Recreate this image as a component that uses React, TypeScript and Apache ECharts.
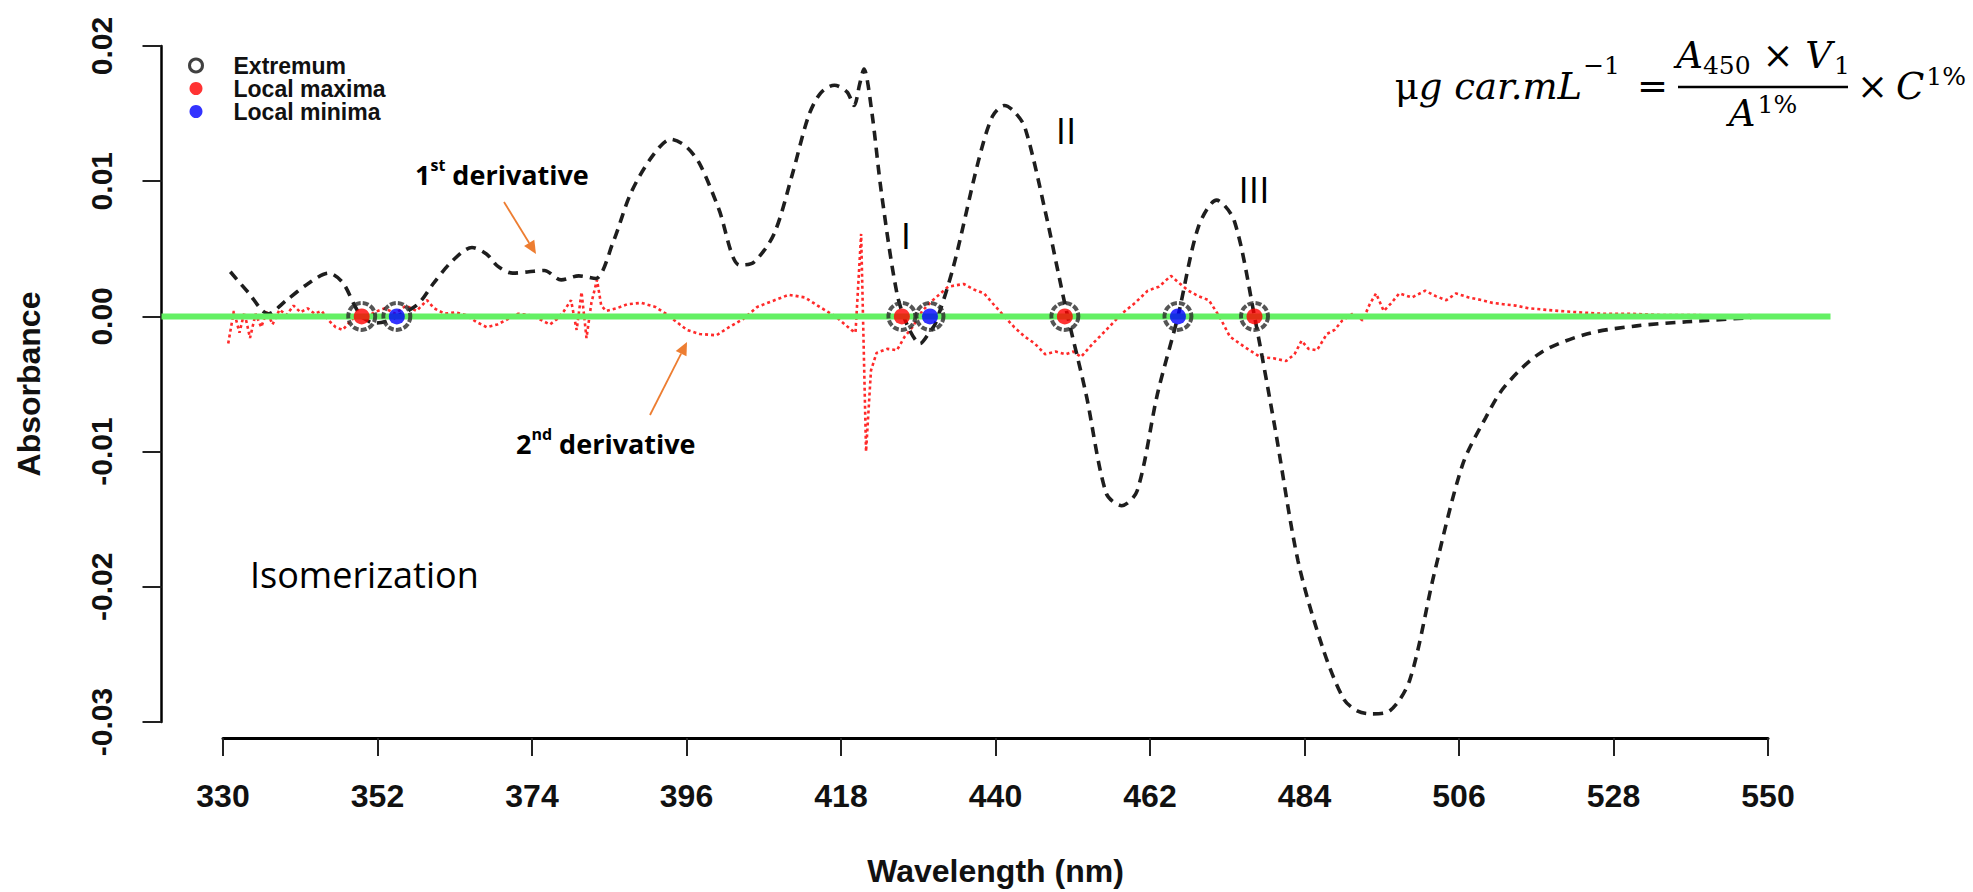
import React, { useEffect, useRef } from "react";
import * as echarts from "echarts";

// ---------------- data ----------------
const wavelength1 = [
  331.0, 333.5, 336.4, 339.0, 342.0, 345.0, 347.0, 348.7, 349.7, 351.5, 353.0, 354.7,
  357.7, 360.0, 362.6, 365.4, 367.5, 369.1, 371.2, 373.5, 375.7, 378.1, 380.6, 383.0,
  385.5, 388.0, 391.0, 393.7, 395.8, 397.8, 400.5, 403.5, 405.5, 408.4, 411.0, 413.3,
  415.0, 417.0, 418.8, 419.8, 420.6, 421.2, 422.3, 423.7, 425.9, 427.5, 429.2, 430.5,
  431.4, 433.9, 437.5, 439.5, 441.2, 442.5, 444.1, 447.0, 449.9, 452.8, 455.7, 457.9,
  460.1, 463.0, 465.9, 468.8, 471.4, 473.9, 476.8, 479.7, 483.0, 486.5, 489.5, 491.5,
  493.5, 496.0, 498.9, 502.4, 506.4, 509.7, 512.4, 517.5, 524.1, 531.2, 538.3, 547.5
];
const firstDerivative = [
  0.0033, 0.0018, 0.0002, 0.0012, 0.0024, 0.0032, 0.0025, 0.0008, 0.0, -0.0005, -0.0004, 0.0,
  0.0009, 0.0025, 0.0041, 0.0051, 0.0046, 0.0037, 0.0032, 0.0033, 0.0034, 0.0027, 0.0030, 0.0028,
  0.0055, 0.0091, 0.0118, 0.0131, 0.0126, 0.0113, 0.0080, 0.0038, 0.0040, 0.0061, 0.0105, 0.0148,
  0.0165, 0.0171, 0.0166, 0.0156, 0.0172, 0.0183, 0.0152, 0.0091, 0.0017, -0.0008, -0.0020, -0.0012,
  -0.0005, 0.0036, 0.0115, 0.0148, 0.0156, 0.0152, 0.0140, 0.0078, 0.0007, -0.0057, -0.0131, -0.0140,
  -0.0129, -0.0057, 0.0, 0.0066, 0.0086, 0.0071, 0.0, -0.0082, -0.0181, -0.0245, -0.0283, -0.0292,
  -0.0294, -0.0292, -0.0269, -0.0190, -0.0110, -0.0075, -0.0052, -0.0027, -0.0013, -0.0007, -0.0004, -0.0001
];

const wavelength2 = [
  330.7, 331.5, 332.3, 333.0, 333.8, 334.6, 335.4, 336.2, 337.0, 338.0, 339.0, 340.0,
  341.0, 342.0, 343.0, 344.0, 345.0, 346.0, 347.0, 348.0, 349.0, 350.0, 351.5, 353.0,
  354.5, 356.0, 357.5, 359.0, 360.0, 361.5, 363.0, 364.5, 366.0, 367.5, 369.0, 370.5,
  372.0, 373.5, 375.0, 376.5, 377.5, 378.5, 379.5, 380.3, 381.0, 381.7, 382.4, 383.2,
  383.8, 384.5, 386.0, 387.5, 389.5, 391.5, 393.0, 394.5, 396.0, 397.8, 400.2, 402.0,
  404.0, 406.0, 408.0, 410.5, 412.8, 414.9, 416.5, 417.4, 418.5, 419.4, 420.0, 420.8,
  421.5, 422.2, 423.0, 424.5, 425.9, 427.0, 428.1, 429.5, 431.0, 433.2, 435.4, 436.8,
  438.3, 439.8, 441.2, 442.6, 444.1, 445.5, 447.0, 448.5, 449.9, 451.0, 452.1, 453.8,
  455.7, 457.9, 459.8, 461.6, 463.2, 464.9, 466.0, 467.4, 468.8, 470.3, 471.8, 473.3,
  475.5, 477.6, 479.5, 481.3, 482.5, 483.5, 484.5, 485.7, 487.1, 488.2, 489.3, 490.8,
  492.2, 493.2, 494.1, 495.2, 496.3, 497.4, 499.2, 501.1, 502.6, 504.1, 505.5, 507.3,
  509.2, 510.7, 512.2, 514.0, 515.8, 518.0, 520.2, 523.0, 526.1, 530.0, 535.0, 540.0,
  545.0, 547.5
];
const secondDerivative = [
  -0.0020, 0.0004, -0.0012, 0.0003, -0.0016, 0.0002, -0.0008, 0.0004, -0.0006, 0.0005, 0.0001, 0.0008,
  0.0003, 0.0006, 0.0002, 0.0004, -0.0003, -0.0008, -0.0010, -0.0004, 0.0001, -0.0002, 0.0003, 0.0006,
  0.0002, 0.0008, 0.0004, 0.0012, 0.0006, 0.0002, 0.0003, 0.0001, -0.0004, -0.0008, -0.0006, -0.0002,
  0.0002, 0.0001, -0.0002, -0.0006, -0.0002, 0.0004, 0.0012, -0.0010, 0.0018, -0.0016, 0.0010, 0.0027,
  0.0008, 0.0004, 0.0006, 0.0009, 0.0010, 0.0007, 0.0002, -0.0004, -0.0010, -0.0013, -0.0014, -0.0008,
  -0.0002, 0.0007, 0.0011, 0.0016, 0.0014, 0.0007, 0.0002, -0.0001, -0.0006, -0.0010, -0.0012, 0.0061,
  -0.0100, -0.0040, -0.0027, -0.0024, -0.0025, -0.0015, -0.0008, 0.0004, 0.0012, 0.0022, 0.0024, 0.0020,
  0.0017, 0.0008, 0.0000, -0.0008, -0.0015, -0.0020, -0.0028, -0.0026, -0.0028, -0.0026, -0.0030, -0.0020,
  -0.0010, 0.0002, 0.0010, 0.0019, 0.0022, 0.0030, 0.0025, 0.0019, 0.0015, 0.0012, 0.0000, -0.0015,
  -0.0023, -0.0030, -0.0031, -0.0033, -0.0028, -0.0018, -0.0024, -0.0025, -0.0013, -0.0010, -0.0003, 0.0002,
  -0.0003, 0.0009, 0.0017, 0.0004, 0.0010, 0.0017, 0.0014, 0.0019, 0.0015, 0.0012, 0.0017, 0.0014,
  0.0012, 0.0010, 0.0009, 0.0008, 0.0006, 0.0005, 0.0004, 0.0003, 0.0002, 0.0002, 0.0001, 0.0001,
  0.0000, 0.0001
];

// plot region (R style: data range extended by 4 %)
const plotXMin = 321.2, plotXMax = 558.8;
const baselineWavelength = [plotXMin, plotXMax];
const baselineValue = [0, 0];

const extremumWavelength = [349.7, 354.7, 426.6, 430.6, 449.8, 465.9, 476.8];
const maximaWavelength = [349.7, 426.6, 449.8, 476.8];
const minimaWavelength = [354.7, 430.6, 465.9];

const xMin = 330, xMax = 550, xStep = 22;
const yMin = -0.03, yMax = 0.02, yStep = 0.01;

const legendNames = ["Extremum", "Local maxima", "Local minima"];

// ---------------- helpers ----------------
const zip = (xs: number[], ys: number[]) => xs.map((x, i) => [x, ys[i]]);
const onZero = (xs: number[]) => xs.map((x) => [x, 0]);

const AXIS_FONT = "'Liberation Sans', Arial, sans-serif";
const CAL_FONT = "'Open Sans', 'Noto Sans', sans-serif";
const MATH_FAMILY = "'DejaVu Serif'";
const MATH_FONT = "'DejaVu Serif', serif";

let measureCtx: CanvasRenderingContext2D | null = null;
function tw(text: string, size: number, italic: boolean) {
  if (!measureCtx) measureCtx = document.createElement("canvas").getContext("2d");
  if (!measureCtx) return text.length * size * 0.6;
  measureCtx.font = `${italic ? "italic " : ""}${size}px ${MATH_FAMILY}, serif`;
  return measureCtx.measureText(text).width;
}

function arrow(x1: number, y1: number, x2: number, y2: number, color: string) {
  const ang = Math.atan2(y2 - y1, x2 - x1);
  const hl = 13, hw = 6;
  const bx = x2 - hl * Math.cos(ang), by = y2 - hl * Math.sin(ang);
  const px = -Math.sin(ang) * hw, py = Math.cos(ang) * hw;
  return [
    { type: "line", shape: { x1, y1, x2: bx, y2: by }, style: { stroke: color, lineWidth: 1.8 }, z: 100 },
    { type: "polygon", shape: { points: [[x2, y2], [bx + px, by + py], [bx - px, by - py]] }, style: { fill: color }, z: 100 },
  ];
}

function mtext(text: string, x: number, y: number, size: number, italic: boolean, align = "left") {
  return {
    type: "text", x, y, z: 100,
    style: { text, fontFamily: MATH_FONT, fontSize: size, fontStyle: italic ? "italic" : "normal", fill: "#000", textAlign: align, textVerticalAlign: "middle" },
  };
}

function formula() {
  const B = 37, S = 25;
  const els: any[] = [];
  // left part, right-anchored before "="
  const supEnd = 1620;
  const wSup = tw("−1", S, false);
  els.push(mtext("−1", supEnd - wSup, 65, S, false));
  els.push({
    type: "text", x: supEnd - wSup - 1, y: 86, z: 100,
    style: {
      text: "{r|μ}{i|g car.mL}", textAlign: "right", textVerticalAlign: "middle",
      rich: {
        r: { fontFamily: MATH_FONT, fontSize: B, color: "#000" },
        i: { fontFamily: MATH_FONT, fontSize: B, fontStyle: "italic", color: "#000" },
      },
    },
  });
  els.push(mtext("=", 1637, 86, B, false));
  // numerator
  const barL = 1678, barR = 1848, barC = (barL + barR) / 2;
  const wA = tw("A", B, true), w450 = tw("450", S, false), wX = tw(" × ", B, false), wV = tw("V", B, true), w1 = tw("1", S, false);
  const numW = wA + w450 + wX + wV + w1 + 2;
  let x = barC - numW / 2;
  els.push(mtext("A", x, 55, B, true)); x += wA;
  els.push(mtext("450", x, 65, S, false)); x += w450;
  els.push(mtext(" × ", x, 55, B, false)); x += wX;
  els.push(mtext("V", x, 55, B, true)); x += wV + 2;
  els.push(mtext("1", x, 65, S, false));
  els.push({ type: "line", z: 100, shape: { x1: barL, y1: 87, x2: barR, y2: 87 }, style: { stroke: "#000", lineWidth: 2.5 } });
  // denominator
  const w1p = tw("1%", S, false);
  const denW = wA + 2 + w1p;
  x = barC - denW / 2;
  els.push(mtext("A", x, 113, B, true)); x += wA + 2;
  els.push(mtext("1%", x, 104, S, false));
  // right part
  els.push(mtext("×", 1857, 86, B, false));
  const wC = tw("C", B, true);
  els.push(mtext("C", 1896, 86, B, true));
  els.push(mtext("1%", 1896 + wC + 2, 76, S, false));
  return els;
}

export default function App() {
  const ref = useRef<HTMLDivElement>(null);
  useEffect(() => {
    const chart = echarts.init(ref.current!, null, { renderer: "svg" });
    const option: any = {
      animation: false,
      backgroundColor: "#ffffff",
      grid: [
        { left: 161.5, top: 46, width: 1669, height: 676, containLabel: false },
        { left: 223, top: 46, width: 1545, height: 676, containLabel: false },
      ],
      legend: {
        orient: "vertical", left: 188, top: 54, padding: 0, itemGap: 0,
        itemWidth: 13, itemHeight: 13, icon: "circle",
        textStyle: { fontFamily: AXIS_FONT, fontWeight: "bold", fontSize: 23, lineHeight: 22, color: "#111", padding: [0, 0, 0, 26] },
        data: [
          { name: legendNames[0], itemStyle: { color: "#ffffff", borderColor: "#111", borderWidth: 3 } },
          { name: legendNames[1], itemStyle: { color: "#ff0000" } },
          { name: legendNames[2], itemStyle: { color: "#0000ff" } },
        ],
      },
      xAxis: [
        {
          gridIndex: 0, type: "value", min: plotXMin, max: plotXMax, show: false,
          axisLine: { onZero: false }, splitLine: { show: false },
        },
        {
          gridIndex: 1, type: "value", min: xMin, max: xMax, interval: xStep, offset: 18,
          name: "Wavelength (nm)", nameLocation: "middle", nameGap: 117,
          nameTextStyle: { fontFamily: AXIS_FONT, fontWeight: "bold", fontSize: 32, color: "#111" },
          axisLine: { show: true, onZero: false, lineStyle: { color: "#000", width: 3 } },
          axisTick: { show: true, length: 18, lineStyle: { color: "#222", width: 2 } },
          axisLabel: { margin: 42, fontFamily: AXIS_FONT, fontWeight: "bold", fontSize: 32, color: "#111" },
          splitLine: { show: false },
        },
      ],
      yAxis: [
        {
          gridIndex: 0, type: "value", min: yMin, max: yMax, interval: yStep,
          name: "Absorbance", nameLocation: "middle", nameGap: 117, nameRotate: 90,
          nameTextStyle: { fontFamily: AXIS_FONT, fontWeight: "bold", fontSize: 32, color: "#111" },
          axisLine: { show: true, onZero: false, lineStyle: { color: "#000", width: 2.5 } },
          axisTick: { show: true, length: 19, lineStyle: { color: "#222", width: 2 } },
          axisLabel: { margin: 45, rotate: 90, fontFamily: AXIS_FONT, fontWeight: "bold", fontSize: 30, color: "#111",
            formatter: (v: number) => v.toFixed(2) },
          splitLine: { show: false },
        },
        {
          gridIndex: 1, type: "value", min: yMin, max: yMax, show: false,
          axisLine: { onZero: false }, splitLine: { show: false },
        },
      ],
      series: [
        {
          name: "2nd derivative", type: "line", xAxisIndex: 0, yAxisIndex: 0,
          data: zip(wavelength2, secondDerivative), showSymbol: false, z: 2,
          lineStyle: { color: "#ff2a2a", width: 2.6, type: [3, 3] },
        },
        {
          name: "1st derivative", type: "line", xAxisIndex: 0, yAxisIndex: 0,
          data: zip(wavelength1, firstDerivative), showSymbol: false, smooth: 0.3, z: 3,
          lineStyle: { color: "#1e1e1e", width: 3.6, type: [10, 7] },
        },
        {
          name: "Baseline", type: "line", xAxisIndex: 0, yAxisIndex: 0,
          data: zip(baselineWavelength, baselineValue), showSymbol: false, z: 4,
          lineStyle: { color: "#64f064", width: 6 },
        },
        {
          name: legendNames[0], type: "scatter", xAxisIndex: 0, yAxisIndex: 0,
          data: onZero(extremumWavelength), symbol: "circle", symbolSize: 27, z: 5,
          itemStyle: { color: "rgba(0,0,0,0)", borderColor: "#2a2a2a", borderWidth: 4, borderType: [6, 2] },
        },
        {
          name: legendNames[1], type: "scatter", xAxisIndex: 0, yAxisIndex: 0,
          data: onZero(maximaWavelength), symbol: "circle", symbolSize: 16, z: 6,
          itemStyle: { color: "#ff0000" },
        },
        {
          name: legendNames[2], type: "scatter", xAxisIndex: 0, yAxisIndex: 0,
          data: onZero(minimaWavelength), symbol: "circle", symbolSize: 16, z: 6,
          itemStyle: { color: "#0000ff" },
        },
      ],
      graphic: [
        {
          type: "text", x: 415, y: 174, z: 100,
          style: {
            text: "{a|1}{s|st}{a| derivative}", textVerticalAlign: "middle",
            rich: {
              a: { fontFamily: CAL_FONT, fontWeight: "bold", fontSize: 27, color: "#ff0000", lineHeight: 34 },
              s: { fontFamily: CAL_FONT, fontWeight: "bold", fontSize: 16, color: "#ff0000", verticalAlign: "top", lineHeight: 18 },
            },
          },
        },
        ...arrow(504, 202, 536, 254, "#ed7d31"),
        {
          type: "text", x: 516, y: 443, z: 100,
          style: {
            text: "{a|2}{s|nd}{a| derivative}", textVerticalAlign: "middle",
            rich: {
              a: { fontFamily: CAL_FONT, fontWeight: "bold", fontSize: 27, color: "#ff0000", lineHeight: 34 },
              s: { fontFamily: CAL_FONT, fontWeight: "bold", fontSize: 16, color: "#ff0000", verticalAlign: "top", lineHeight: 18 },
            },
          },
        },
        ...arrow(650, 415, 687, 342, "#ed7d31"),
        { type: "text", x: 906, y: 234, z: 100, style: { text: "I", fontFamily: CAL_FONT, fontSize: 37, fill: "#000", textAlign: "center", textVerticalAlign: "middle" } },
        { type: "text", x: 1066, y: 129, z: 100, style: { text: "II", fontFamily: CAL_FONT, fontSize: 37, fill: "#000", textAlign: "center", textVerticalAlign: "middle" } },
        { type: "text", x: 1254, y: 188, z: 100, style: { text: "III", fontFamily: CAL_FONT, fontSize: 37, fill: "#000", textAlign: "center", textVerticalAlign: "middle" } },
        { type: "text", x: 250, y: 574, z: 100, style: { text: "Isomerization", fontFamily: CAL_FONT, fontSize: 36, fill: "#000", textAlign: "left", textVerticalAlign: "middle" } },
        ...formula(),
      ],
    };
    chart.setOption(option);
    return () => chart.dispose();
  }, []);
  return (
    <div
      ref={ref}
      style={{ position: "absolute", left: 0, top: 0, width: 1973, height: 892, background: "#fff" }}
    />
  );
}
